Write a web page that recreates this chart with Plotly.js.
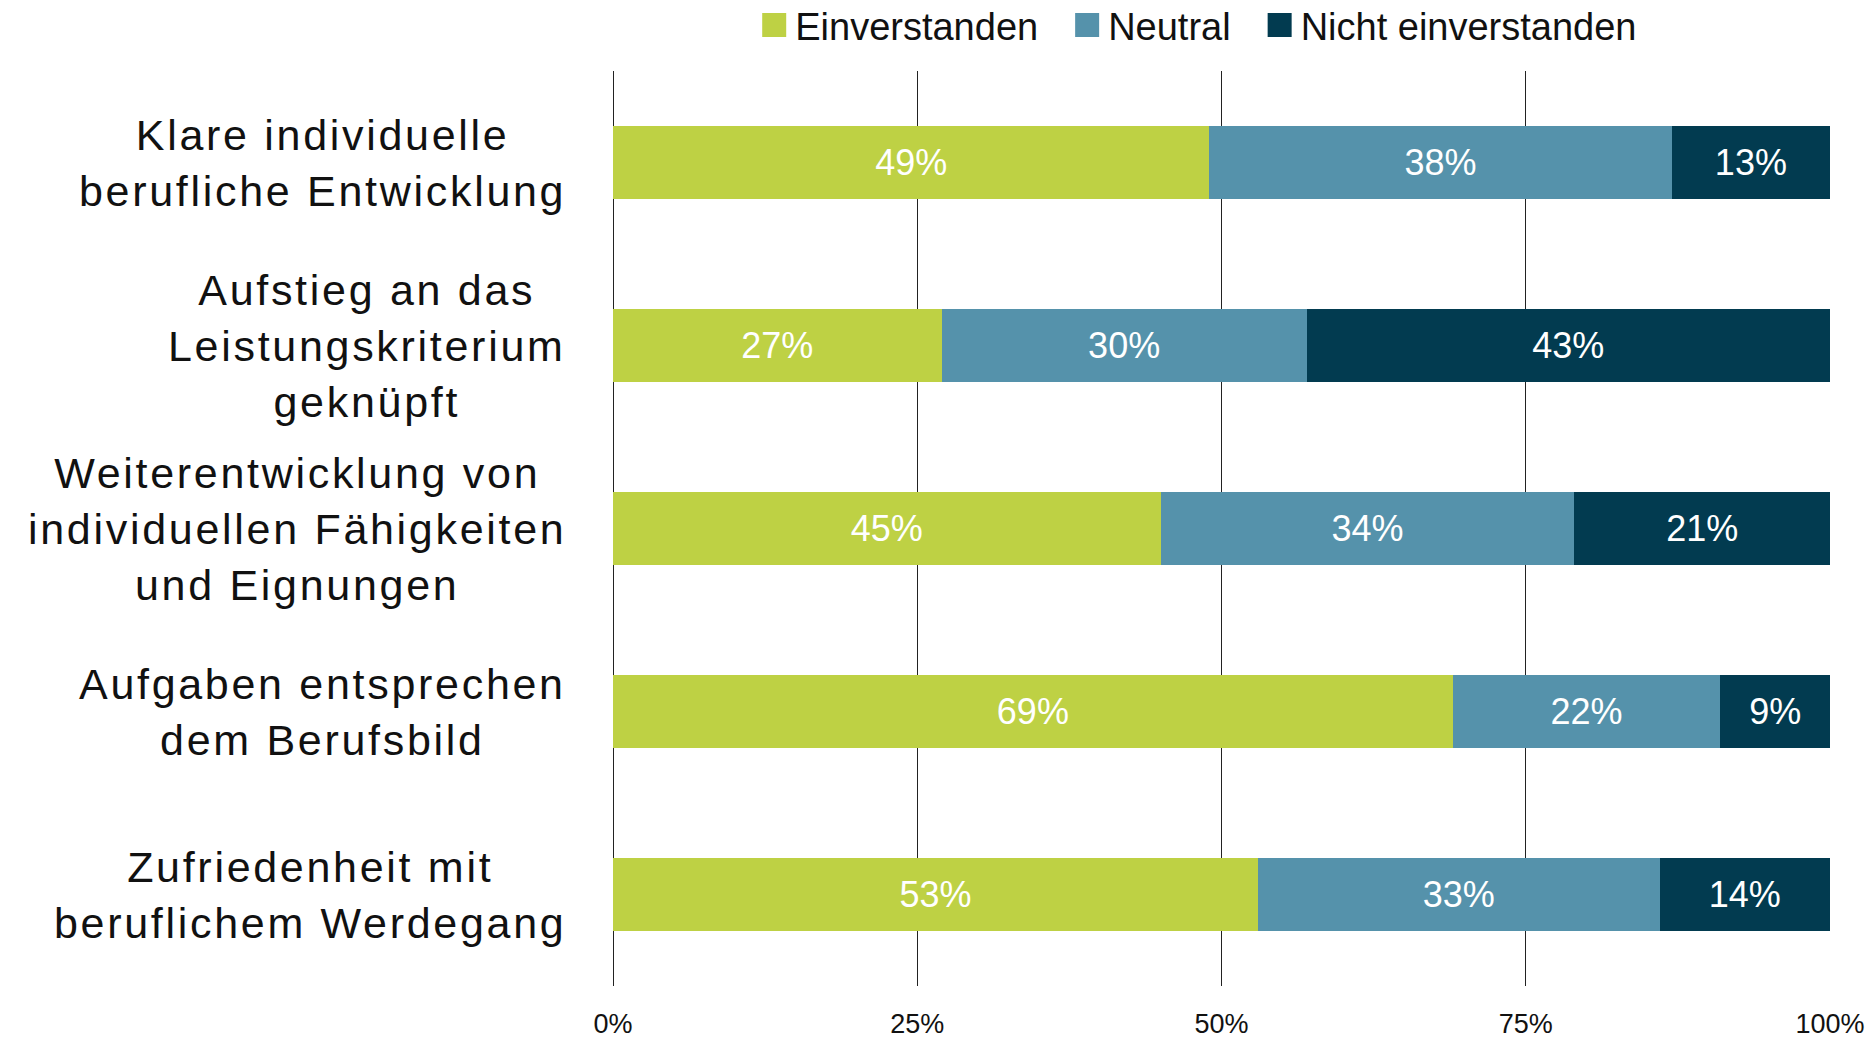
<!DOCTYPE html>
<html>
<head>
<meta charset="utf-8">
<script src="https://cdn.plot.ly/plotly-3.0.1.min.js"></script>
<style>
  html, body { margin: 0; padding: 0; background: #ffffff; }
  #chart { width: 1870px; height: 1038px; }
  .annotation-text { letter-spacing: 2.7px; }
  .legend .legendpoints path { transform: translate(44px, 0px) scale(2); }
</style>
</head>
<body>
<div id="chart"></div>
<script>
// Categories (top to bottom), each label split in lines
const categoryLines = [
  ["Klare individuelle", "berufliche Entwicklung"],
  ["Aufstieg an das", "Leistungskriterium", "geknüpft"],
  ["Weiterentwicklung von", "individuellen Fähigkeiten", "und Eignungen"],
  ["Aufgaben entsprechen", "dem Berufsbild"],
  ["Zufriedenheit mit", "beruflichem Werdegang"]
];
const categories = categoryLines.map(l => l.join(" "));

// Series values (percent)
const einverstanden = [49, 27, 45, 69, 53];
const neutral = [38, 30, 34, 22, 33];
const nichtEinverstanden = [13, 43, 21, 9, 14];

const seriesNames = ["Einverstanden", "Neutral", "Nicht einverstanden"];
const seriesColors = ["#bed144", "#5592ab", "#023b50"];

// X axis ticks
const tickVals = [0, 25, 50, 75, 100];
const tickLabels = ["0%", "25%", "50%", "75%", "100%"];

const seriesValues = [einverstanden, neutral, nichtEinverstanden];

const traces = seriesValues.map((vals, i) => ({
  type: "bar",
  orientation: "h",
  name: seriesNames[i],
  y: categories,
  x: vals,
  width: 0.4,
  marker: { color: seriesColors[i], line: { width: 0 } },
  text: vals.map(v => v + "%"),
  textposition: "inside",
  insidetextanchor: "middle",
  textangle: 0,
  textfont: { family: "Liberation Sans, Arial, sans-serif", size: 36, color: "#ffffff" },
  hoverinfo: "skip",
  cliponaxis: false
}));

const annotations = categories.map((c, i) => ({
  xref: "paper",
  yref: "y",
  x: -0.037,
  y: c,
  xanchor: "right",
  yanchor: "middle",
  align: "center",
  showarrow: false,
  text: categoryLines[i].join("<br>"),
  font: { family: "Liberation Sans, Arial, sans-serif", size: 43, color: "#111111" }
}));

const layout = {
  width: 1870,
  height: 1038,
  barmode: "stack",
  paper_bgcolor: "#ffffff",
  plot_bgcolor: "#ffffff",
  margin: { l: 613, r: 40, t: 71, b: 52, pad: 0, autoexpand: false },
  showlegend: true,
  legend: {
    orientation: "h",
    x: 0.471,
    xanchor: "center",
    y: 1.05,
    yanchor: "middle",
    itemwidth: 55,
    traceorder: "normal",
    font: { family: "Liberation Sans, Arial, sans-serif", size: 38, color: "#111111" },
    itemclick: false,
    itemdoubleclick: false
  },
  xaxis: {
    range: [0, 100],
    tickvals: tickVals,
    ticktext: tickLabels,
    showgrid: true,
    gridcolor: "#222222",
    gridwidth: 1,
    zeroline: true,
    zerolinecolor: "#222222",
    zerolinewidth: 1,
    showline: false,
    ticks: "",
    ticklabelstandoff: 19,
    tickfont: { family: "Liberation Sans, Arial, sans-serif", size: 27, color: "#111111" },
    fixedrange: true
  },
  yaxis: {
    type: "category",
    categoryorder: "array",
    categoryarray: categories,
    range: [4.5, -0.5],
    showticklabels: false,
    showgrid: false,
    zeroline: false,
    ticks: "",
    fixedrange: true
  },
  annotations: annotations,
  bargap: 0.6
};

Plotly.newPlot("chart", traces, layout, { displayModeBar: false, staticPlot: true });
</script>
</body>
</html>
